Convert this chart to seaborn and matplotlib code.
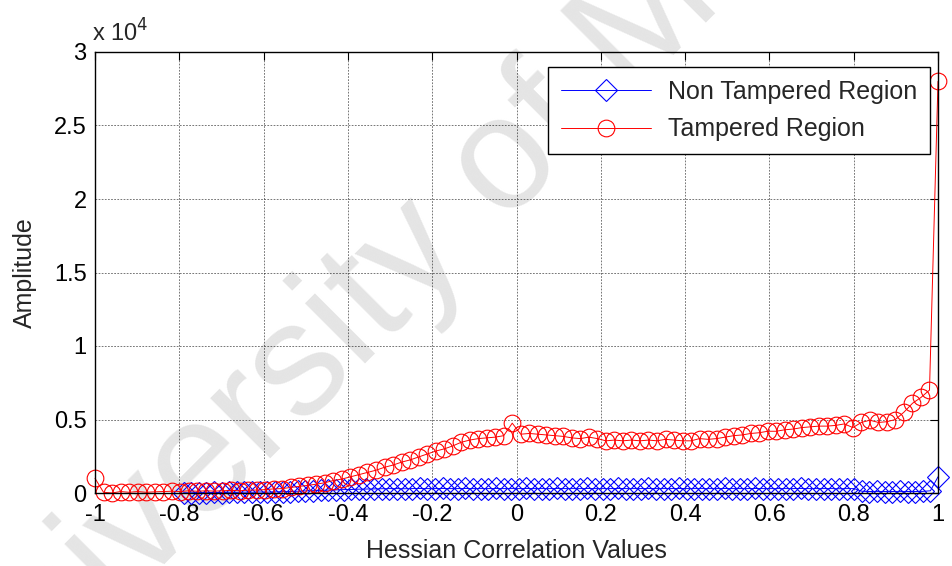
import numpy as np
import pandas as pd
import matplotlib
matplotlib.use("Agg")
import matplotlib.pyplot as plt
import seaborn as sns

# Hessian correlation bins and amplitude counts
tampered_x = np.linspace(-1.0, 1.0, 100)
tampered_amp = [
    1000, 50, 0, 100, 50, 100, 50, 80, 100, 120,
    100, 150, 120, 150, 130, 150, 180, 150, 200, 200,
    230, 280, 300, 380, 450, 520, 600, 700, 850, 950,
    1100, 1250, 1400, 1550, 1750, 1900, 2100, 2250, 2450, 2650,
    2850, 3000, 3200, 3450, 3600, 3700, 3750, 3800, 3900, 4750,
    4000, 4050, 4000, 3950, 3900, 3850, 3750, 3700, 3800, 3700,
    3550, 3600, 3550, 3600, 3550, 3600, 3550, 3650, 3600, 3550,
    3550, 3700, 3650, 3700, 3800, 3900, 3950, 4050, 4100, 4200,
    4200, 4300, 4350, 4450, 4500, 4550, 4550, 4600, 4700, 4450,
    4800, 4950, 4800, 4850, 5000, 5500, 6100, 6500, 7000, 28000,
]

non_tampered_x = np.linspace(-0.79, 1.0, 100)
non_tampered_amp = [
    20, 10, 30, 20, 40, 30, 50, 40, 60, 50,
    70, 60, 80, 90, 100, 120, 140, 160, 180, 200,
    210, 230, 240, 260, 270, 280, 290, 300, 300, 290,
    300, 310, 300, 300, 310, 300, 300, 310, 300, 300,
    300, 310, 300, 300, 300, 310, 300, 300, 300, 310,
    300, 300, 300, 310, 300, 300, 300, 310, 300, 300,
    300, 310, 300, 300, 300, 310, 300, 300, 300, 300,
    300, 310, 300, 300, 300, 310, 300, 300, 300, 300,
    300, 310, 300, 300, 300, 300, 290, 300, 300, 120,
    100, 110, 100, 100, 110, 100, 100, 110, 150, 1100,
]

series_labels = ["Non Tampered Region", "Tampered Region"]
x_ticks = [-1, -0.8, -0.6, -0.4, -0.2, 0, 0.2, 0.4, 0.6, 0.8, 1]
x_tick_labels = ["-1", "-0.8", "-0.6", "-0.4", "-0.2", "0", "0.2", "0.4", "0.6", "0.8", "1"]
y_ticks = [0, 5000, 10000, 15000, 20000, 25000, 30000]
y_tick_labels = ["0", "0.5", "1", "1.5", "2", "2.5", "3"]

sns.set_theme(style="white")
plt.rcParams["font.family"] = ["Liberation Sans", "DejaVu Sans"]
plt.rcParams["axes.linewidth"] = 1.0

fig = plt.figure(figsize=(9.52, 5.66), dpi=100)
fig.patch.set_facecolor("white")
ax = fig.add_axes([95 / 952, 1 - 493 / 566, (938 - 95) / 952, (493 - 52) / 566])
ax.patch.set_alpha(0.0)

df_nt = pd.DataFrame({"x": non_tampered_x, "amp": non_tampered_amp})
df_t = pd.DataFrame({"x": tampered_x, "amp": tampered_amp})

sns.lineplot(data=df_nt, x="x", y="amp", ax=ax, color="blue", lw=0.7,
             marker="D", markersize=11, markerfacecolor="none",
             markeredgecolor="blue", markeredgewidth=0.8,
             label=series_labels[0], estimator=None, sort=False, zorder=3,
             clip_on=False)
sns.lineplot(data=df_t, x="x", y="amp", ax=ax, color="red", lw=0.7,
             marker="o", markersize=12, markerfacecolor="none",
             markeredgecolor="red", markeredgewidth=0.8,
             label=series_labels[1], estimator=None, sort=False, zorder=4,
             clip_on=False)

ax.set_xlim(-1, 1)
ax.set_ylim(0, 30000)
ax.set_xticks(x_ticks)
ax.set_xticklabels(x_tick_labels)
ax.set_yticks(y_ticks)
ax.set_yticklabels(y_tick_labels)
ax.tick_params(axis="both", which="both", direction="in", length=6, width=0.8,
               top=True, right=True, labelsize=17, colors="black")
ax.tick_params(axis="x", pad=8)
ax.tick_params(axis="y", pad=6)
ax.grid(True, color="black", linestyle=(0, (2.5, 2)), linewidth=0.5, alpha=0.75)
ax.set_axisbelow(False)
for s in ax.spines.values():
    s.set_color("black")
    s.set_linewidth(1.0)
    s.set_zorder(5)

ax.set_xlabel("Hessian Correlation Values", fontsize=18, labelpad=9)
ax.set_ylabel("Amplitude", fontsize=18, labelpad=12)

# exponent label above the y axis
ax.text(-0.003, 1.012, r"x 10$^{4}$", transform=ax.transAxes, fontsize=17,
        ha="left", va="bottom")

leg = ax.legend(loc="upper right", bbox_to_anchor=((930 - 95) / 843, 1 - (67 - 52) / 441),
                borderaxespad=0, fontsize=18, frameon=True, fancybox=False,
                handlelength=3.6, handletextpad=0.7, borderpad=0.5,
                labelspacing=0.55, edgecolor="black", framealpha=1)
leg.get_frame().set_linewidth(1.0)
leg.set_zorder(6)

# institutional watermark across the page, behind the plot
fig.text(455 / 952, 1 - 215 / 566, "University of Malaya", fontsize=116, rotation=45,
         rotation_mode="anchor", color="#dcdcdc", alpha=0.75, ha="center", va="center",
         zorder=-1, family=["Liberation Sans", "DejaVu Sans"])

fig.savefig("out.png", dpi=100, facecolor="white")
